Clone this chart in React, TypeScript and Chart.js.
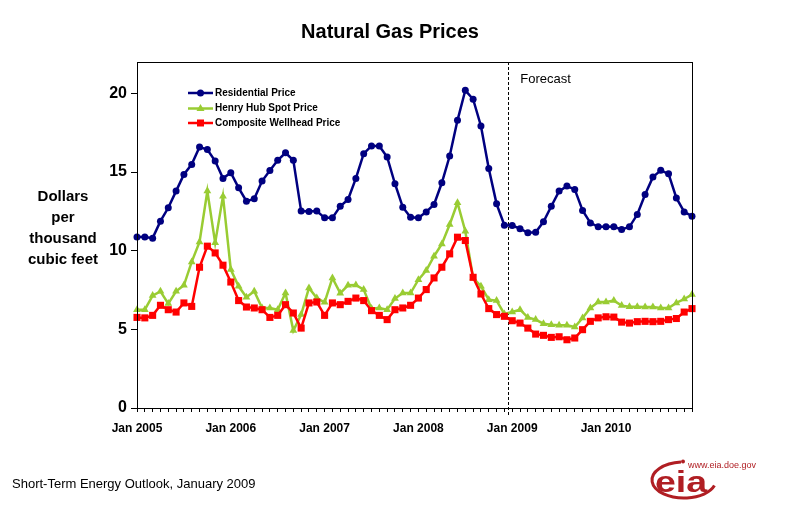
import React, { useEffect, useRef } from "react";
import { Chart, registerables } from "chart.js";

Chart.register(...registerables);

const years = [2005, 2006, 2007, 2008, 2009, 2010];
const monthNames = ["Jan", "Feb", "Mar", "Apr", "May", "Jun", "Jul", "Aug", "Sep", "Oct", "Nov", "Dec"];
const categories: string[] = [];
years.forEach((y) => monthNames.forEach((m) => categories.push(`${m} ${y}`)));

const yTicks = [0, 5, 10, 15, 20];

const residential = [
  10.88, 10.87, 10.8, 11.88, 12.73, 13.79, 14.85, 15.49, 16.59, 16.44, 15.7, 14.6,
  14.96, 14.0, 13.15, 13.3, 14.43, 15.1, 15.75, 16.23, 15.75, 12.52, 12.5, 12.52,
  12.09, 12.09, 12.83, 13.26, 14.6, 16.17, 16.66, 16.66, 15.96, 14.26, 12.77, 12.13,
  12.09, 12.47, 12.94, 14.32, 16.02, 18.29, 20.2, 19.63, 17.93, 15.23, 12.98, 11.62,
  11.6, 11.4, 11.14, 11.17, 11.84, 12.83, 13.79, 14.11, 13.9, 12.56, 11.77, 11.52,
  11.52, 11.52, 11.35, 11.52, 12.3, 13.58, 14.68, 15.11, 14.89, 13.36, 12.47, 12.2,
];

const henryHub = [
  6.25, 6.25, 7.15, 7.42, 6.64, 7.42, 7.8, 9.29, 10.56, 13.79, 10.5, 13.47,
  8.8, 7.74, 7.04, 7.42, 6.36, 6.36, 6.25, 7.31, 4.92, 5.94, 7.63, 6.99,
  6.72, 8.27, 7.3, 7.8, 7.82, 7.53, 6.32, 6.36, 6.25, 6.96, 7.31, 7.31,
  8.16, 8.74, 9.65, 10.43, 11.67, 13.05, 11.24, 8.27, 7.74, 6.89, 6.83, 5.98,
  6.1, 6.25, 5.76, 5.62, 5.36, 5.3, 5.26, 5.26, 5.15, 5.72, 6.36, 6.74,
  6.74, 6.83, 6.51, 6.44, 6.44, 6.42, 6.42, 6.36, 6.36, 6.68, 6.93, 7.21,
];

const wellhead = [
  5.76, 5.73, 5.89, 6.53, 6.25, 6.1, 6.68, 6.46, 8.95, 10.29, 9.86, 9.08,
  8.01, 6.83, 6.42, 6.36, 6.25, 5.76, 5.89, 6.57, 6.04, 5.08, 6.68, 6.74,
  5.89, 6.68, 6.57, 6.78, 6.99, 6.83, 6.19, 5.89, 5.62, 6.25, 6.36, 6.53,
  6.99, 7.53, 8.27, 8.95, 9.8, 10.86, 10.65, 8.31, 7.25, 6.32, 5.94, 5.83,
  5.55, 5.4, 5.08, 4.7, 4.62, 4.49, 4.53, 4.34, 4.45, 4.98, 5.51, 5.73,
  5.8, 5.78, 5.46, 5.4, 5.49, 5.51, 5.49, 5.51, 5.62, 5.69, 6.1, 6.32,
];

const seriesNames = ["Residential Price", "Henry Hub Spot Price", "Composite Wellhead Price"];
const seriesColors = ["#000080", "#99cc33", "#ff0000"];
const seriesMarkers = ["circle", "triangle", "rect"];
const forecastStartIndex = 48;

const FONT = "'Liberation Sans', Arial, sans-serif";

function drawMarker(ctx: CanvasRenderingContext2D, kind: string, x: number, y: number, color: string) {
  ctx.fillStyle = color;
  ctx.beginPath();
  if (kind === "circle") {
    ctx.arc(x, y, 3.5, 0, Math.PI * 2);
  } else if (kind === "triangle") {
    ctx.moveTo(x, y - 4.5);
    ctx.lineTo(x + 4, y + 2.5);
    ctx.lineTo(x - 4, y + 2.5);
    ctx.closePath();
  } else {
    ctx.rect(x - 3.5, y - 3.5, 7, 7);
  }
  ctx.fill();
}

const decorPlugin = {
  id: "decor",
  beforeDatasetsDraw(chart: any) {
    const { ctx, chartArea } = chart;
    const xs = chart.scales.x;
    ctx.save();
    const fx = (xs.getPixelForValue(forecastStartIndex - 1) + xs.getPixelForValue(forecastStartIndex)) / 2;
    ctx.strokeStyle = "#000";
    ctx.lineWidth = 1;
    ctx.setLineDash([3, 2]);
    ctx.beginPath();
    ctx.moveTo(Math.round(fx) + 0.5, chartArea.top);
    ctx.lineTo(Math.round(fx) + 0.5, chartArea.bottom + 8);
    ctx.stroke();
    ctx.setLineDash([]);
    ctx.fillStyle = "#000";
    ctx.font = `13px ${FONT}`;
    ctx.textAlign = "left";
    ctx.textBaseline = "middle";
    ctx.fillText("Forecast", fx + 12, 79);
    ctx.restore();
  },
  afterDraw(chart: any) {
    const { ctx, chartArea } = chart;
    ctx.save();
    ctx.strokeStyle = "#000";
    ctx.lineWidth = 1;
    ctx.strokeRect(Math.round(chartArea.left) + 0.5, Math.round(chartArea.top) + 0.5,
      Math.round(chartArea.right - chartArea.left), Math.round(chartArea.bottom - chartArea.top));

    ctx.fillStyle = "#000";
    ctx.textAlign = "center";
    ctx.textBaseline = "middle";
    ctx.font = `bold 20px ${FONT}`;
    ctx.fillText("Natural Gas Prices", 390, 32);

    ctx.font = `bold 15px ${FONT}`;
    const yt = ["Dollars", "per", "thousand", "cubic feet"];
    yt.forEach((t, i) => ctx.fillText(t, 63, 197 + i * 21));

    const rows = [93, 108.5, 123];
    seriesNames.forEach((name, i) => {
      const y = rows[i];
      ctx.strokeStyle = seriesColors[i];
      ctx.lineWidth = 2.5;
      ctx.beginPath();
      ctx.moveTo(188, y);
      ctx.lineTo(213, y);
      ctx.stroke();
      drawMarker(ctx, seriesMarkers[i], 200.5, y, seriesColors[i]);
      ctx.fillStyle = "#000";
      ctx.font = `bold 10px ${FONT}`;
      ctx.textAlign = "left";
      ctx.textBaseline = "middle";
      ctx.fillText(name, 215, y);
    });

    ctx.fillStyle = "#000";
    ctx.font = `13px ${FONT}`;
    ctx.textAlign = "left";
    ctx.textBaseline = "middle";
    ctx.fillText("Short-Term Energy Outlook, January 2009", 12, 484);

    // eia logo
    const red = "#b01e23";
    ctx.fillStyle = red;
    ctx.font = `9px ${FONT}`;
    ctx.textBaseline = "middle";
    ctx.fillText("www.eia.doe.gov", 688, 466);
    ctx.strokeStyle = red;
    ctx.lineWidth = 3;
    ctx.beginPath();
    ctx.ellipse(684, 480, 32, 18, 0, Math.PI * 1.47, Math.PI * 0.1, true);
    ctx.stroke();
    ctx.beginPath();
    ctx.arc(683, 461.5, 2, 0, Math.PI * 2);
    ctx.fill();
    ctx.save();
    ctx.translate(655, 492);
    ctx.scale(1.25, 1);
    ctx.font = `bold 30px ${FONT}`;
    ctx.textBaseline = "alphabetic";
    ctx.fillText("eia", 0, 0);
    ctx.restore();
    ctx.restore();
  },
};

export default function App() {
  const ref = useRef<HTMLCanvasElement | null>(null);
  useEffect(() => {
    if (!ref.current) return;
    const datasets = [residential, henryHub, wellhead].map((data, i) => ({
      label: seriesNames[i],
      data,
      borderColor: seriesColors[i],
      backgroundColor: seriesColors[i],
      borderWidth: 2.5,
      pointStyle: seriesMarkers[i] as any,
      pointRadius: i === 0 ? 3.5 : i === 1 ? 4.5 : 5,
      pointBorderWidth: 0,
      tension: 0,
      order: 2 - i,
    }));
    const chart = new Chart(ref.current, {
      type: "line",
      data: { labels: categories, datasets },
      options: {
        responsive: false,
        animation: false,
        layout: { padding: { left: 97, right: 93, top: 62, bottom: 77 } },
        plugins: { legend: { display: false }, tooltip: { enabled: false }, title: { display: false } },
        scales: {
          x: {
            type: "category",
            offset: false,
            ticks: {
              autoSkip: false,
              maxRotation: 0,
              minRotation: 0,
              padding: 9,
              color: "#000",
              font: { family: FONT, size: 12, weight: "bold" },
              callback: (_v: any, i: number) => (i % 12 === 0 ? `Jan ${years[i / 12]}` : ""),
            },
            grid: { drawOnChartArea: false, tickLength: 4, color: "#000" },
            border: { color: "#000" },
            afterFit: (s: any) => { s.height = 30; },
          },
          y: {
            min: 0,
            max: 22,
            afterBuildTicks: (s: any) => { s.ticks = yTicks.map((v) => ({ value: v })); },
            ticks: {
              padding: 4,
              color: "#000",
              font: { family: FONT, size: 16, weight: "bold" },
            },
            grid: { drawOnChartArea: false, tickLength: 6, color: "#000" },
            border: { color: "#000" },
            afterFit: (s: any) => { s.width = 40; },
          },
        },
      },
      plugins: [decorPlugin],
    });
    return () => chart.destroy();
  }, []);
  return (
    <div style={{ position: "fixed", left: 0, top: 0, width: 785, height: 515, background: "#fff" }}>
      <canvas ref={ref} width={785} height={515} style={{ display: "block" }} />
    </div>
  );
}
